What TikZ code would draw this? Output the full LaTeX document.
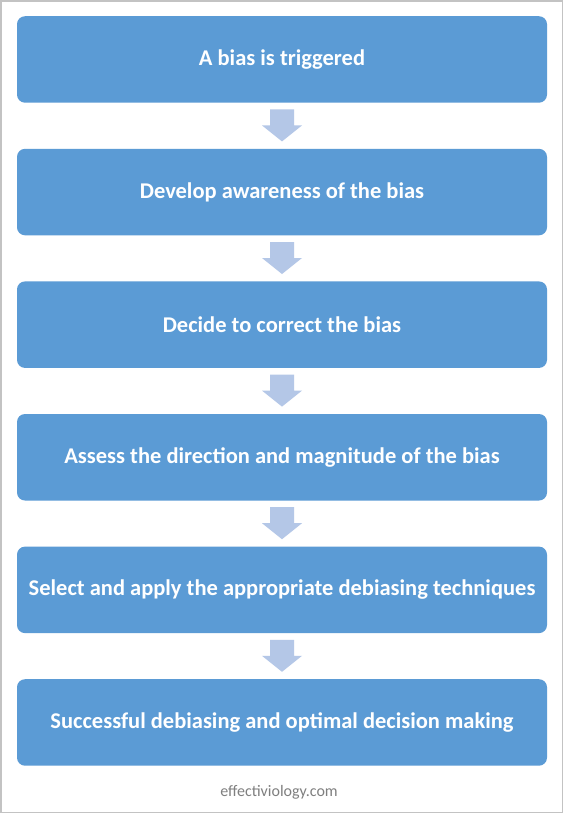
\documentclass[tikz,border=0pt]{standalone}
\usepackage{fontspec}
\setmainfont{Carlito}
\usetikzlibrary{calc}
\definecolor{boxblue}{HTML}{5B9BD5}
\definecolor{arrowblue}{HTML}{B4C7E7}
\definecolor{framegray}{HTML}{C3C3C3}
\definecolor{footgray}{HTML}{7F7F7F}
\tikzset{
  stepbox/.style={fill=boxblue, draw=none, rounded corners=8pt, minimum width=530pt, minimum height=86.5pt,
    inner sep=0pt, text=white, font=\fontsize{22.5}{26}\selectfont\bfseries, anchor=north},
  blockarrow/.style={fill=arrowblue, draw=none}
}
\begin{document}
\begin{tikzpicture}[x=1pt,y=-1pt]
\useasboundingbox (0,0) rectangle (564,814);
\fill[white] (0,0) rectangle (564,814);
\draw[framegray, line width=1.6pt] (0.8,0.8) rectangle (562.6,812.6);
\node[stepbox] (b1) at (282,16) {A bias is triggered};
\node[stepbox] (b2) at (282,148.6) {Develop awareness of the bias};
\node[stepbox] (b3) at (282,281.2) {Decide to correct the bias};
\node[stepbox] (b4) at (282,413.8) {Assess the direction and magnitude of the bias};
\node[stepbox] (b5) at (282,546.4) {Select and apply the appropriate debiasing techniques};
\node[stepbox] (b6) at (282,679) {Successful debiasing and optimal decision making};
\foreach \a in {1,...,5}{
  \fill[blockarrow] ($(b\a.south)+(-12,6.5)$) -- ($(b\a.south)+(12,6.5)$) -- ($(b\a.south)+(12,22.5)$)
    -- ($(b\a.south)+(20,22.5)$) -- ($(b\a.south)+(0,38.5)$) -- ($(b\a.south)+(-20,22.5)$)
    -- ($(b\a.south)+(-12,22.5)$) -- cycle;
}
\node[text=footgray, font=\fontsize{16}{18}\selectfont] (foot) at (279,792) {effectiviology.com};
\end{tikzpicture}
\end{document}
